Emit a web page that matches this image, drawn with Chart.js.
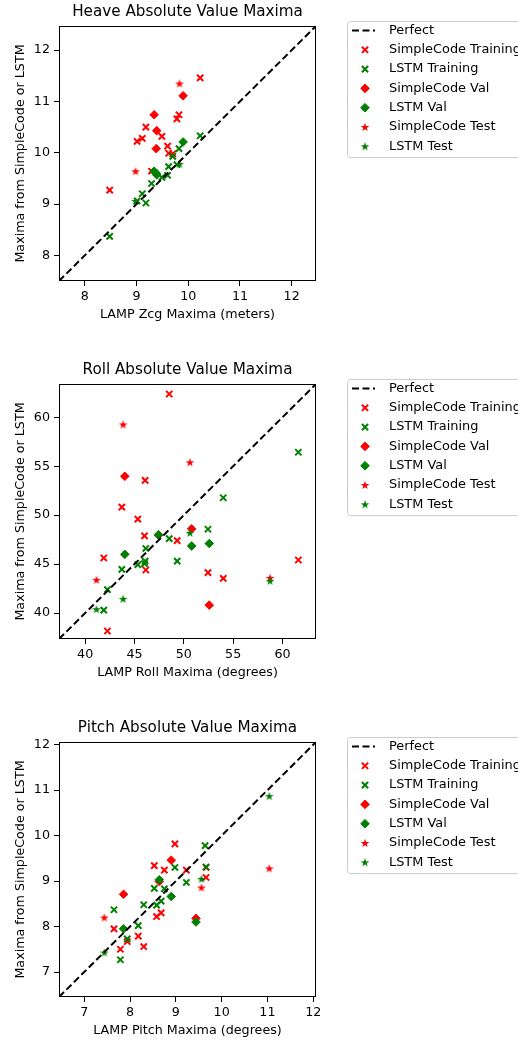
<!DOCTYPE html>
<html>
<head>
<meta charset="utf-8">
<title>Absolute Value Maxima</title>
<script src="https://cdn.jsdelivr.net/npm/chart.js@4.4.1/dist/chart.umd.min.js"></script>
<style>
    body { margin: 0; background: #fff; width: 518px; height: 1043px; overflow: hidden; position: relative; }
    canvas { position: absolute; left: 0; }
</style>
</head>
<body>
<canvas id="heaveChart" width="518" height="358" style="top:0px"></canvas>
<canvas id="rollChart" width="518" height="358" style="top:358px"></canvas>
<canvas id="pitchChart" width="518" height="327" style="top:716px"></canvas>
<script>
// ---- Heave (meters) ----
const heaveLimits = [7.5, 12.47];
const heaveTicks = [8, 9, 10, 11, 12];
const heaveSimpleTrain = [[10.23, 11.46], [9.82, 10.74], [9.78, 10.66], [9.18, 10.50], [9.11, 10.28], [9.01, 10.22],
    [9.49, 10.32], [9.60, 10.13], [9.62, 9.99], [9.70, 9.98], [8.48, 9.27], [9.29, 9.64]];
const heaveLstmTrain = [[10.23, 10.33], [9.82, 10.08], [9.78, 9.77], [9.18, 9.02], [9.11, 9.20], [9.01, 9.06],
    [9.49, 9.52], [9.60, 9.56], [9.62, 9.73], [9.70, 9.93], [8.48, 8.37], [9.29, 9.40]];
const heaveSimpleVal = [[9.90, 11.11], [9.34, 10.74], [9.39, 10.43], [9.38, 10.08]];
const heaveLstmVal = [[9.90, 10.21], [9.34, 9.64], [9.39, 9.57], [9.38, 9.60]];
const heaveSimpleTest = [[9.83, 11.35], [8.98, 9.64]];
const heaveLstmTest = [[9.83, 9.78], [8.98, 9.06]];

// ---- Roll (degrees) ----
const rollLimits = [37.35, 63.4];
const rollTicks = [40, 45, 50, 55, 60];
const rollSimpleTrain = [[48.52, 62.38], [46.08, 53.55], [43.72, 50.82], [45.34, 49.59], [46.02, 47.88], [49.33, 47.40],
    [41.89, 45.63], [46.15, 44.40], [52.45, 44.13], [54.0, 43.55], [61.61, 45.42], [42.26, 38.17]];
const rollLstmTrain = [[48.52, 47.6], [46.08, 45.3], [43.72, 44.46], [45.34, 44.95], [46.02, 45.05], [49.33, 45.3],
    [41.89, 40.3], [46.15, 46.6], [52.45, 48.56], [54.0, 51.78], [61.61, 56.43], [42.26, 42.4]];
const rollSimpleVal = [[44.02, 53.97], [50.79, 48.6], [52.58, 40.81], [47.44, 47.95]];
const rollLstmVal = [[44.02, 46.0], [50.79, 46.85], [52.58, 47.1], [47.44, 48.0]];
const rollSimpleTest = [[43.85, 59.27], [50.62, 55.4], [41.15, 43.4], [58.74, 43.6]];
const rollLstmTest = [[43.85, 41.45], [50.62, 48.2], [41.15, 40.4], [58.74, 43.3]];

// ---- Pitch (degrees) ----
const pitchLimits = [6.45, 12.06];
const pitchTicks = [7, 8, 9, 10, 11, 12];
const pitchSimpleTrain = [[8.98, 9.82], [8.53, 9.34], [8.75, 9.24], [9.23, 9.24], [9.66, 9.30], [9.66, 9.08], [8.58, 8.22],
    [8.68, 8.30], [7.65, 7.95], [8.18, 7.79], [7.94, 7.67], [7.79, 7.50], [8.30, 7.56]];
const pitchLstmTrain = [[8.98, 9.30], [8.53, 8.84], [8.75, 8.83], [9.23, 8.97], [9.66, 9.31], [9.64, 9.78], [8.58, 8.47],
    [8.68, 8.56], [7.65, 8.37], [8.18, 8.02], [7.94, 7.73], [7.79, 7.27], [8.30, 8.48]];
const pitchSimpleVal = [[8.90, 9.46], [7.86, 8.71], [9.44, 8.18], [8.64, 8.99]];
const pitchLstmVal = [[8.90, 8.66], [7.86, 7.95], [9.44, 8.10], [8.64, 9.03]];
const pitchSimpleTest = [[11.04, 9.28], [7.44, 8.20], [9.56, 8.86]];
const pitchLstmTest = [[11.04, 10.87], [7.44, 7.43], [9.56, 9.05]];

const RED = '#ff0000';
const GREEN = '#008000';
const FONT = 'DejaVu Sans';

// filled star marker like matplotlib '*'
function makeStar(color) {
    const c = document.createElement('canvas');
    c.width = 10;
    c.height = 10;
    const g = c.getContext('2d');
    g.fillStyle = color;
    g.beginPath();
    for (let i = 0; i < 10; i++) {
        const r = i % 2 ? 1.8 : 4.6;
        const a = -Math.PI / 2 + i * Math.PI / 5;
        const px = 5 + r * Math.cos(a);
        const py = 5.4 + r * Math.sin(a);
        if (i === 0) g.moveTo(px, py); else g.lineTo(px, py);
    }
    g.closePath();
    g.fill();
    return c;
}
const redStar = makeStar(RED);
const greenStar = makeStar(GREEN);

function scatterSet(label, points, color, kind, order) {
    const ds = {
        label: label,
        data: points.map(p => ({ x: p[0], y: p[1] })),
        borderColor: color,
        backgroundColor: color,
        pointBorderColor: color,
        pointBackgroundColor: color,
        order: order
    };
    if (kind === 'x') {
        ds.pointStyle = 'crossRot';
        ds.pointRadius = 4.4;
        ds.pointBorderWidth = 2;
    } else if (kind === 'diamond') {
        ds.pointStyle = 'rectRot';
        ds.pointRadius = 4.3;
        ds.pointBorderWidth = 1;
    } else {
        ds.pointStyle = color === RED ? redStar : greenStar;
        ds.pointRadius = 4;
        ds.pointBorderWidth = 0;
    }
    return ds;
}

// title above the axes box
const titlePlugin = {
    id: 'axesTitle',
    afterDraw(chart, args, opts) {
        const { ctx, chartArea } = chart;
        ctx.save();
        ctx.font = '15.2px "' + FONT + '"';
        ctx.fillStyle = '#000';
        ctx.textAlign = 'center';
        ctx.textBaseline = 'middle';
        ctx.fillText(opts.text, (chartArea.left + chartArea.right) / 2, 12.5);
        ctx.restore();
    }
};

// matplotlib-like spines all round
const framePlugin = {
    id: 'frame',
    afterDraw(chart) {
        const { ctx, chartArea } = chart;
        ctx.save();
        ctx.strokeStyle = '#000';
        ctx.lineWidth = 1;
        ctx.strokeRect(Math.round(chartArea.left) + 0.5, Math.round(chartArea.top) + 0.5,
            Math.round(chartArea.right - chartArea.left) - 1, Math.round(chartArea.bottom - chartArea.top) - 1);
        ctx.restore();
    }
};

// legend outside the axes on the right (runs off the canvas edge like the original)
const outsideLegend = {
    id: 'outsideLegend',
    afterDraw(chart) {
        const { ctx } = chart;
        const boxLeft = 347, boxTop = 21, rowH = 19.3, firstY = 30.5;
        const n = chart.data.datasets.length;
        ctx.save();
        ctx.fillStyle = 'rgba(255,255,255,0.8)';
        ctx.strokeStyle = '#cccccc';
        ctx.lineWidth = 1;
        ctx.beginPath();
        ctx.roundRect(boxLeft + 0.5, boxTop + 0.5, 230, n * rowH + 1, 3);
        ctx.fill();
        ctx.stroke();

        chart.data.datasets.forEach((ds, i) => {
            const y = firstY + i * rowH;
            if (ds.showLine) {
                ctx.save();
                ctx.strokeStyle = ds.borderColor;
                ctx.lineWidth = ds.borderWidth;
                ctx.setLineDash(ds.borderDash);
                ctx.beginPath();
                ctx.moveTo(352, y);
                ctx.lineTo(375, y);
                ctx.stroke();
                ctx.restore();
            } else {
                ctx.save();
                ctx.fillStyle = ds.pointBackgroundColor;
                ctx.strokeStyle = ds.pointBorderColor;
                ctx.lineWidth = ds.pointBorderWidth;
                Chart.helpers.drawPoint(ctx, {
                    pointStyle: ds.pointStyle,
                    radius: ds.pointRadius,
                    borderWidth: ds.pointBorderWidth,
                    rotation: 0
                }, 365, y);
                ctx.restore();
            }
            ctx.fillStyle = '#000';
            ctx.font = '12.9px "' + FONT + '"';
            ctx.textAlign = 'left';
            ctx.textBaseline = 'middle';
            ctx.fillText(ds.label, 389, y);
        });
        ctx.restore();
    }
};

function makeChart(id, title, xLabel, limits, ticks, sets) {
    const canvas = document.getElementById(id);
    const H = canvas.height;
    const lineSet = {
        label: 'Perfect',
        data: [{ x: limits[0], y: limits[0] }, { x: limits[1], y: limits[1] }],
        showLine: true,
        borderColor: '#000',
        borderWidth: 2,
        borderDash: [7, 3.5],
        pointRadius: 0,
        order: -1
    };
    const datasets = [
        lineSet,
        scatterSet('SimpleCode Training', sets[0], RED, 'x', 6),
        scatterSet('LSTM Training', sets[1], GREEN, 'x', 5),
        scatterSet('SimpleCode Val', sets[2], RED, 'diamond', 4),
        scatterSet('LSTM Val', sets[3], GREEN, 'diamond', 3),
        scatterSet('SimpleCode Test', sets[4], RED, 'star', 2),
        scatterSet('LSTM Test', sets[5], GREEN, 'star', 1)
    ];

    const tickFont = { family: FONT, size: 12.7 };
    const axisCommon = {
        type: 'linear',
        min: limits[0],
        max: limits[1],
        afterBuildTicks: axis => { axis.ticks = ticks.map(v => ({ value: v })); },
        grid: { drawOnChartArea: false, drawTicks: true, tickLength: 5, color: '#000', lineWidth: 1 },
        border: { display: false },
        ticks: { color: '#000', font: tickFont, padding: 3, maxRotation: 0 }
    };

    return new Chart(canvas, {
        type: 'scatter',
        data: { datasets },
        options: {
            responsive: false,
            animation: false,
            events: [],
            layout: { padding: { left: 0, right: 202, top: 26, bottom: 0 } },
            plugins: {
                legend: { display: false },
                tooltip: { enabled: false },
                axesTitle: { text: title }
            },
            scales: {
                x: Object.assign({}, axisCommon, {
                    position: 'bottom',
                    afterFit: s => { s.height = H - 281; },
                    title: {
                        display: true, text: xLabel, color: '#000',
                        font: { family: FONT, size: 12.7, lineHeight: 1.2 },
                        padding: { top: 0, bottom: H - 315 - 7.6 }
                    }
                }),
                y: Object.assign({}, axisCommon, {
                    position: 'left',
                    ticks: { color: '#000', font: tickFont, padding: 4 },
                    afterFit: s => { s.width = 59; },
                    title: {
                        display: true, text: 'Maxima from SimpleCode or LSTM', color: '#000',
                        font: { family: FONT, size: 12.7, lineHeight: 1.2 },
                        padding: { top: 13, bottom: 0 }
                    }
                })
            }
        },
        plugins: [titlePlugin, framePlugin, outsideLegend]
    });
}

makeChart('heaveChart', 'Heave Absolute Value Maxima', 'LAMP Zcg Maxima (meters)', heaveLimits, heaveTicks,
    [heaveSimpleTrain, heaveLstmTrain, heaveSimpleVal, heaveLstmVal, heaveSimpleTest, heaveLstmTest]);
makeChart('rollChart', 'Roll Absolute Value Maxima', 'LAMP Roll Maxima (degrees)', rollLimits, rollTicks,
    [rollSimpleTrain, rollLstmTrain, rollSimpleVal, rollLstmVal, rollSimpleTest, rollLstmTest]);
makeChart('pitchChart', 'Pitch Absolute Value Maxima', 'LAMP Pitch Maxima (degrees)', pitchLimits, pitchTicks,
    [pitchSimpleTrain, pitchLstmTrain, pitchSimpleVal, pitchLstmVal, pitchSimpleTest, pitchLstmTest]);
</script>
</body>
</html>
